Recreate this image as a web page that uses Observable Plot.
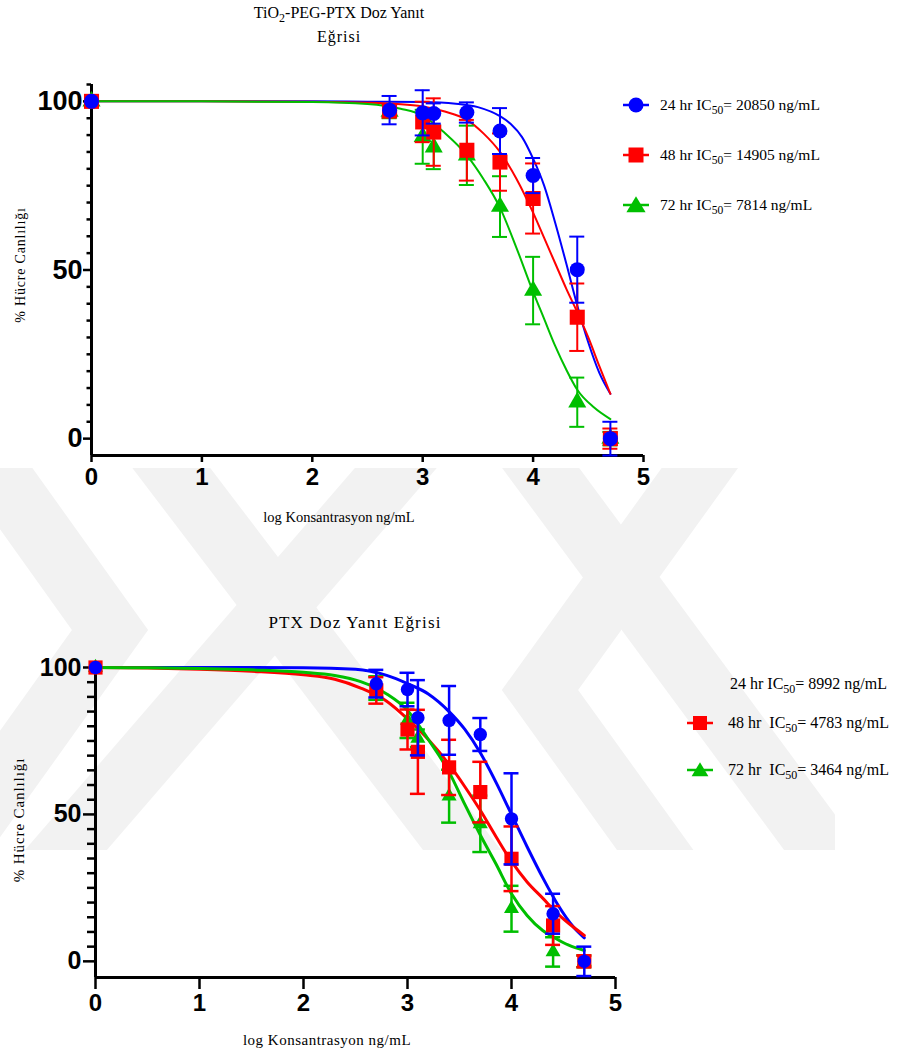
<!DOCTYPE html>
<html><head><meta charset="utf-8">
<script src="https://cdn.jsdelivr.net/npm/d3@7"></script>
<script src="https://cdn.jsdelivr.net/npm/@observablehq/plot@0.6"></script>
<style>
body{margin:0;background:#fff;}
#page{position:relative;width:914px;height:1054px;overflow:hidden;font-family:'Liberation Serif','Times New Roman',serif;color:#000;}
.abs{position:absolute;white-space:nowrap;font-family:'Liberation Serif','Times New Roman',serif;}
.c{transform:translate(-50%,-50%);}
.rot{transform:translate(-50%,-50%) rotate(-90deg);}
.sub{font-size:0.75em;position:relative;top:0.32em;}
#page svg g[aria-label$="tick label"]{font-weight:700;font-family:'Liberation Sans',Arial,sans-serif;}
</style></head><body><div id="page"></div>
<script>
// ---------- data ----------
const xTicks = [0, 1, 2, 3, 4, 5];
const yMajor = [0, 50, 100];
const doseX = [0, 2.7, 3.0, 3.1, 3.4, 3.7, 4.0, 4.4, 4.7];

// TiO2-PEG-PTX (top)
const top24 = [100, 97.4, 96.6, 96.4, 96.7, 91.2, 78, 50.1, 0];
const top24Err = [0, 4.2, 6.7, 3, 3, 6.8, 5.2, 9.8, 5];
const top48 = [100, 97.2, 93.9, 90.9, 85.5, 82, 71.2, 36, 0];
const top48Err = [0, 2, 6, 10, 9, 8.5, 10.4, 10, 3];
const top72 = [100, 97, 89.5, 86.4, 84, 68.8, 43.9, 10.8, 0];
const top72Err = [0, 2, 8, 6.5, 8.8, 9, 10, 7.3, 2];

const top24FitX = [0, 1, 2, 2.5, 3, 3.3, 3.5, 3.7, 3.8, 3.9, 4.0, 4.1, 4.2, 4.3, 4.4, 4.5, 4.6, 4.7];
const top24FitY = [100, 100, 100, 99.9, 99.8, 99.3, 98.3, 95.6, 93.2, 89.4, 83, 75, 64, 52, 39.5, 28.5, 19.5, 13.3];
const top48FitX = [0, 1, 2, 2.5, 3.0, 3.2, 3.4, 3.55, 3.7, 3.85, 4.0, 4.1, 4.2, 4.3, 4.4, 4.5, 4.6, 4.7];
const top48FitY = [100, 100, 99.9, 99.6, 98.5, 97, 94.5, 90.5, 85, 77, 67, 59.5, 52, 44.5, 37.5, 30, 21.5, 13.3];
const top72FitX = [0, 1, 2, 2.5, 2.8, 3.0, 3.2, 3.4, 3.55, 3.7, 3.85, 4.0, 4.1, 4.2, 4.3, 4.4, 4.55, 4.7];
const top72FitY = [100, 100, 99.8, 99.2, 97.8, 95.8, 90.6, 84, 77, 68.5, 56.5, 43.5, 35.5, 27.5, 20.5, 14.5, 9.3, 5.8];

// PTX (bottom)
const bot24 = [100, 94.5, 92.5, 82.9, 82, 77.2, 48.5, 16.2, 0];
const bot24Err = [0, 4.7, 5.7, 12.8, 11.7, 5.6, 15.5, 6.8, 5];
const bot48 = [100, 92.2, 78.9, 71.3, 66, 57.6, 34.9, 12.2, 0];
const bot48Err = [0, 4.5, 6.8, 14.3, 9.4, 10.3, 11, 6.6, 2];
const bot72 = [100, 93, 82, 75.9, 56.2, 46.8, 17.9, 3.2, 0];
const bot72Err = [0, 4, 6, 3, 9, 9.6, 7.8, 5, 2];

const bot24FitX = [0, 1, 2, 2.5, 2.8, 3.0, 3.2, 3.4, 3.55, 3.7, 3.85, 4.0, 4.15, 4.3, 4.45, 4.6, 4.7];
const bot24FitY = [100, 100, 99.9, 99.4, 97.3, 94.5, 91, 85, 79, 71, 61, 50, 39, 28.5, 19, 11.5, 8];
const bot48FitX = [0, 0.5, 1, 1.5, 2, 2.3, 2.55, 2.8, 3.0, 3.2, 3.4, 3.55, 3.7, 3.85, 4.0, 4.15, 4.3, 4.45, 4.6, 4.7];
const bot48FitY = [100, 99.8, 99.4, 98.7, 97.5, 96, 93, 88.5, 82.5, 75.5, 67, 59.5, 51.4, 42.5, 34, 27, 21.5, 16, 11.5, 8.8];
const bot72FitX = [0, 0.5, 1, 1.5, 2, 2.3, 2.55, 2.8, 3.0, 3.2, 3.4, 3.55, 3.7, 3.85, 4.0, 4.15, 4.3, 4.4, 4.55, 4.7];
const bot72FitY = [100, 99.9, 99.7, 99.2, 98.4, 97.3, 95.2, 91, 85.4, 75.5, 64.4, 53.5, 43, 33.2, 23, 15.6, 10.5, 8.3, 5.5, 3.7];

const topLegend = ["24 hr IC|50|= 20850 ng/mL", "48 hr IC|50|= 14905 ng/mL", "72 hr IC|50|= 7814 ng/mL"];
const botLegend = ["24 hr IC|50|= 8992 ng/mL", "48 hr\u00a0 IC|50|= 4783 ng/mL", "72 hr\u00a0 IC|50|= 3464 ng/mL"];
const colors = ["#0000ff", "#ff0000", "#00bf00"];
const symbols = ["circle", "square", "triangle"];

// ---------- helpers ----------
const pts = (xs, ys, es) => xs.map((x, i) => ({x, y: ys[i], e: es[i]}));
const crv = (xs, ys) => xs.map((x, i) => ({x, y: ys[i]}));
const page = document.getElementById("page");

function seriesMarks(p, color, symbol, r, ew, cap) {
  const eb = p.filter(d => d.e > 0);
  return [
    Plot.ruleX(eb, {x: "x", y1: d => d.y - d.e, y2: d => d.y + d.e, stroke: color, strokeWidth: ew}),
    Plot.ruleY(eb, {y: d => d.y + d.e, x1: d => d.x - cap, x2: d => d.x + cap, stroke: color, strokeWidth: ew}),
    Plot.ruleY(eb, {y: d => d.y - d.e, x1: d => d.x - cap, x2: d => d.x + cap, stroke: color, strokeWidth: ew}),
    Plot.dot(p, {x: "x", y: "y", symbol: () => symbol, fill: color, stroke: "none", r})
  ];
}

function chart(o) {
  const svg = Plot.plot({
    width: 914, height: o.height,
    marginLeft: o.ml, marginRight: o.mr, marginTop: o.mt, marginBottom: o.mb,
    x: {domain: [0, 5]}, y: {domain: o.yDomain},
    symbol: {type: "identity"},
    style: {background: "transparent", overflow: "visible", fontFamily: "'Liberation Sans', Arial, sans-serif", color: "#000"},
    marks: [
      Plot.axisY({ticks: o.minor, tickSize: o.minorSize, strokeWidth: 2.5, tickFormat: () => "", label: null}),
      Plot.axisY({ticks: yMajor, tickSize: o.majorY, tickPadding: o.padY, strokeWidth: 2.5, fontSize: o.fsY, fontWeight: 700, label: null}),
      Plot.axisX({ticks: xTicks, tickSize: o.majorX, tickPadding: o.padX, strokeWidth: 2.5, fontSize: o.fsX, fontWeight: 700, label: null, tickFormat: d => String(d)}),
      Plot.ruleX([0], {y1: o.yDomain[0], y2: o.yDomain[1], strokeWidth: 3}),
      Plot.ruleY([o.yDomain[0]], {x1: 0, x2: 5, strokeWidth: 3}),
      ...o.curves.map((c, i) => Plot.line(c, {x: "x", y: "y", stroke: colors[i], strokeWidth: o.lw, curve: "monotone-x"})),
      ...seriesMarks(o.series[2], colors[2], symbols[2], o.r[2], o.ew, o.cap),
      ...seriesMarks(o.series[1], colors[1], symbols[1], o.r[1], o.ew, o.cap),
      ...seriesMarks(o.series[0], colors[0], symbols[0], o.r[0], o.ew, o.cap)
    ]
  });
  svg.style.position = "absolute";
  svg.style.left = "0px";
  svg.style.top = o.top + "px";
  page.appendChild(svg);
}

function addText(html, x, y, size, cls, extra) {
  const d = document.createElement("div");
  d.className = "abs " + cls;
  d.style.left = x + "px"; d.style.top = y + "px"; d.style.fontSize = size + "px";
  if (extra) d.style.cssText += extra;
  d.innerHTML = html;
  page.appendChild(d);
  return d;
}
function legendHtml(s) {
  const [a, b, c] = s.split("|");
  return a + '<span class="sub">' + b + '</span>' + c;
}
function marker(i, cx, cy, size) {
  const ns = "http://www.w3.org/2000/svg";
  const s = document.createElementNS(ns, "svg");
  s.setAttribute("width", 30); s.setAttribute("height", 22);
  s.style.position = "absolute"; s.style.left = (cx - 15) + "px"; s.style.top = (cy - 11) + "px";
  let h = `<line x1="2" x2="28" y1="11" y2="11" stroke="${colors[i]}" stroke-width="2.5"/>`;
  if (symbols[i] === "circle") h += `<circle cx="15" cy="11" r="${size / 2}" fill="${colors[i]}"/>`;
  else if (symbols[i] === "square") h += `<rect x="${15 - size / 2}" y="${11 - size / 2}" width="${size}" height="${size}" fill="${colors[i]}"/>`;
  else h += `<polygon points="15,${11 - size * 0.55} ${15 - size * 0.6},${11 + size * 0.45} ${15 + size * 0.6},${11 + size * 0.45}" fill="${colors[i]}"/>`;
  s.innerHTML = h;
  page.appendChild(s);
}

// ---------- watermark (faint background decoration) ----------
page.insertAdjacentHTML("beforeend", `<svg class="abs" style="left:0;top:0" width="914" height="1054">
<defs><clipPath id="wmc"><rect x="0" y="468" width="835" height="382"/></clipPath></defs>
<g clip-path="url(#wmc)" stroke="#f2f2f2" stroke-width="62" fill="none">
<polyline points="-40,420 110,630 -40,840"/>
<line x1="420" y1="440" x2="40" y2="880"/>
<line x1="150" y1="440" x2="500" y2="900"/>
<line x1="520" y1="440" x2="830" y2="860"/>
<polyline points="720,440 540,690 720,940"/>
</g></svg>`);

// ---------- top chart ----------
chart({
  top: 0, height: 540, ml: 91, mr: 271, mt: 84, mb: 85,
  yDomain: [-5, 105], minor: d3.range(5, 106, 5).filter(v => v % 50 !== 0),
  minorSize: 4.5, majorY: 8, padY: 1, fsY: 27, majorX: 7, padX: 5, fsX: 24,
  lw: 2, ew: 2, cap: 0.068, r: [7.5, 8.5, 6.7],
  series: [pts(doseX, top24, top24Err), pts(doseX, top48, top48Err), pts(doseX, top72, top72Err)],
  curves: [crv(top24FitX, top24FitY), crv(top48FitX, top48FitY), crv(top72FitX, top72FitY)]
});

// ---------- bottom chart ----------
chart({
  top: 600, height: 454, ml: 95, mr: 299, mt: 67, mb: 77,
  yDomain: [-5.5, 100], minor: d3.range(5, 100, 5).filter(v => v % 50 !== 0),
  minorSize: 8, majorY: 12, padY: 2, fsY: 25, majorX: 12, padX: 4, fsX: 24,
  lw: 3, ew: 2.5, cap: 0.072, r: [6.7, 8, 5.6],
  series: [pts(doseX, bot24, bot24Err), pts(doseX, bot48, bot48Err), pts(doseX, bot72, bot72Err)],
  curves: [crv(bot24FitX, bot24FitY), crv(bot48FitX, bot48FitY), crv(bot72FitX, bot72FitY)]
});

// ---------- texts ----------
addText('TiO<span class="sub">2</span>-PEG-PTX Doz Yanıt', 339, 13, 16, "c");
addText('Eğrisi', 339, 37, 16, "c", "letter-spacing:1px;");
addText('log Konsantrasyon ng/mL', 339, 517, 14.5, "c");
addText('% Hücre Canlılığı', 21, 265, 14, "rot", "letter-spacing:0.8px;");

addText('PTX Doz Yanıt Eğrisi', 355, 623, 17, "c", "letter-spacing:1.2px;");
addText('log Konsantrasyon ng/mL', 327, 1040, 15, "c", "letter-spacing:0.5px;");
addText('% Hücre Canlılığı', 19, 820, 15, "rot", "letter-spacing:0.9px;");

// legends
const topLegY = [105, 155, 205];
topLegend.forEach((s, i) => {
  marker(i, 636, topLegY[i], i === 2 ? 16 : 15);
  addText(legendHtml(s), 660, topLegY[i], 15.5, "", "transform:translateY(-50%);");
});
const botLegY = [684, 723, 770];
botLegend.forEach((s, i) => {
  if (i > 0) marker(i, 700, botLegY[i], 14);
  addText(legendHtml(s), i === 0 ? 730 : 728, botLegY[i], 16, "", "transform:translateY(-50%);");
});
</script></body></html>
